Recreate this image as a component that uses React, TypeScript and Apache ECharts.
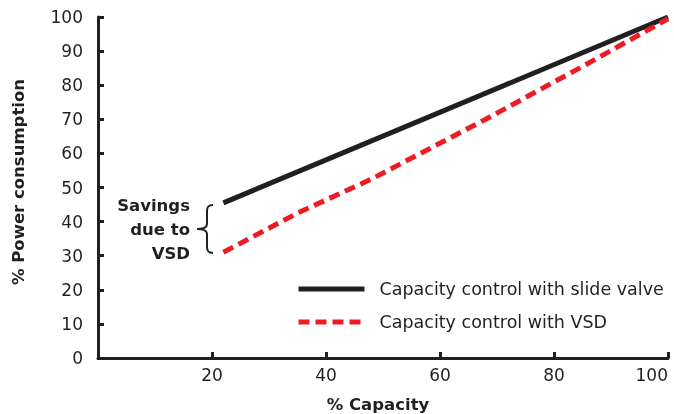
import React, { useEffect, useRef } from "react";
import * as echarts from "echarts";

const slideValve: [number, number][] = [
  [22, 45.5],
  [100, 100],
];
const vsd: [number, number][] = [
  [22, 31],
  [35, 42.5],
  [48, 52.5],
  [68, 70],
  [85, 85.5],
  [100, 99.5],
];
const seriesNames = ["Capacity control with slide valve", "Capacity control with VSD"];
const annotationText = "Savings\ndue to\nVSD";

const FONT = "DejaVu Sans";
const INK = "#231f20";
const RED = "#ed1c24";

echarts.graphic.registerShape(
  "brace",
  echarts.graphic.extendPath(
    "M16,0 C11,0 10,2 10,6 L10,19 C10,22 7,24 0,24 C7,24 10,26 10,29 L10,42 C10,46 11,48 16,48",
    {}
  )
);

export default function App() {
  const ref = useRef<HTMLDivElement>(null);
  useEffect(() => {
    if (!ref.current) return;
    const chart = echarts.init(ref.current, null, { renderer: "svg" });
    chart.setOption({
      animation: false,
      grid: { left: 98, right: 6, top: 17, bottom: 56, outerBoundsMode: "none", containLabel: false },
      legend: {
        orient: "vertical",
        left: 291,
        top: 275,
        itemWidth: 66,
        itemHeight: 20,
        itemGap: 15,
        itemStyle: { opacity: 0 },
        lineStyle: { width: 5 },
        textStyle: { fontFamily: FONT, fontSize: 17.5, color: INK, padding: [0, 0, 0, 10] },
        data: seriesNames,
      },
      xAxis: {
        type: "value",
        min: 0,
        max: 100,
        interval: 20,
        name: "% Capacity",
        nameLocation: "middle",
        nameGap: 38,
        nameTextStyle: {
          fontFamily: FONT,
          fontSize: 16.5,
          fontWeight: "bold",
          color: INK,
          padding: [0, 10, 0, 0],
        },
        axisLine: { lineStyle: { color: INK, width: 3 } },
        axisTick: { inside: true, length: 6, lineStyle: { color: INK, width: 3 } },
        axisLabel: {
          fontFamily: FONT,
          fontSize: 17,
          color: INK,
          margin: 8,
          alignMaxLabel: "right",
          formatter: (v: number) => (v === 0 ? "" : String(v)),
        },
        splitLine: { show: false },
      },
      yAxis: {
        type: "value",
        min: 0,
        max: 100,
        interval: 10,
        name: "% Power consumption",
        nameLocation: "middle",
        nameGap: 71,
        nameTextStyle: {
          fontFamily: FONT,
          fontSize: 16.5,
          fontWeight: "bold",
          color: INK,
          padding: [0, 0, 0, 11],
        },
        axisLine: { show: true, lineStyle: { color: INK, width: 3 } },
        axisTick: { show: true, inside: true, length: 6, lineStyle: { color: INK, width: 3 } },
        axisLabel: { fontFamily: FONT, fontSize: 17, color: INK, margin: 15 },
        splitLine: { show: false },
      },
      series: [
        {
          name: seriesNames[0],
          type: "line",
          data: slideValve,
          symbol: "none",
          lineStyle: { color: INK, width: 5 },
          itemStyle: { color: INK },
        },
        {
          name: seriesNames[1],
          type: "line",
          data: vsd,
          symbol: "none",
          lineStyle: { color: RED, width: 5, type: [11, 6] },
          itemStyle: { color: RED },
        },
      ],
      graphic: [
        {
          type: "brace",
          x: 197,
          y: 205,
          style: { stroke: INK, fill: "none", lineWidth: 2 },
        },
        {
          type: "text",
          x: 190,
          y: 229,
          style: {
            text: annotationText,
            fontFamily: FONT,
            fontSize: 16.5,
            fontWeight: "bold",
            fill: INK,
            align: "right",
            verticalAlign: "middle",
            lineHeight: 24,
          },
        },
      ],
    });
    return () => chart.dispose();
  }, []);
  return (
    <div
      ref={ref}
      style={{ position: "fixed", left: 0, top: 0, width: 674, height: 414 }}
    />
  );
}
